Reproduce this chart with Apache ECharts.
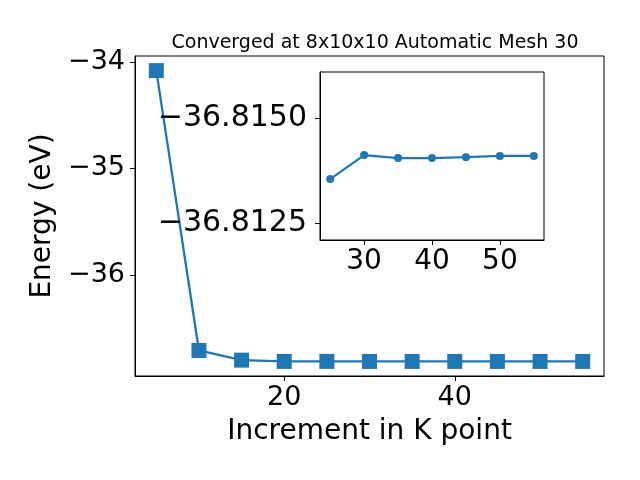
<!DOCTYPE html>
<html>
<head>
<meta charset="utf-8">
<script src="https://cdn.jsdelivr.net/npm/echarts@6/dist/echarts.min.js"></script>
<style>html,body{margin:0;padding:0;background:#fff}#c{width:640px;height:480px}</style>
</head>
<body>
<div id="c"></div>
<script>
const titleText = 'Converged at 8x10x10 Automatic Mesh 30';
const xLabel = 'Increment in K point';
const yLabel = 'Energy (eV)';
const mainK = [5, 10, 15, 20, 25, 30, 35, 40, 45, 50, 55];
const mainEnergy = [-34.08, -36.711, -36.802, -36.8139, -36.81355, -36.81412, -36.81405, -36.81405, -36.81407, -36.8141, -36.8141];
const insetK = [25, 30, 35, 40, 45, 50, 55];
const insetEnergy = [-36.81355, -36.81412, -36.81405, -36.81405, -36.81407, -36.8141, -36.8141];
const mainXTicks = [20, 40];
const mainYTicks = [-36, -35, -34];
const insetXTicks = [30, 40, 50];
const insetYTicks = [-36.815, -36.8125];

const FONT = 'DejaVu Sans';
const C = '#1f77b4';
const minus = (s) => s.replace('-', '\u2212');

const chart = echarts.init(document.getElementById('c'), null, {renderer: 'canvas'});
const axisCommon = {
  axisLine: {show: true, lineStyle: {color: '#000', width: 1}},
  axisTick: {show: true, length: 5, inside: false, lineStyle: {color: '#000', width: 1}},
  splitLine: {show: false}
};
chart.setOption({
  animation: false,
  backgroundColor: '#fff',
  title: {
    text: titleText, left: 370, top: 29, textAlign: 'center',
    textStyle: {fontFamily: FONT, fontSize: 19, fontWeight: 'normal', color: '#000'}
  },
  grid: [
    {left: 135, right: 36, top: 56, bottom: 104, show: true, borderColor: '#000', borderWidth: 1, backgroundColor: 'transparent'},
    {left: 320, top: 72, width: 224, height: 168, show: true, borderColor: '#000', borderWidth: 1, backgroundColor: '#fff', z: 5}
  ],
  xAxis: [
    Object.assign({}, axisCommon, {
      type: 'value', gridIndex: 0, min: 2.5, max: 57.5,
      name: xLabel, nameLocation: 'middle', nameGap: 42,
      nameTextStyle: {fontFamily: FONT, fontSize: 28, color: '#000'},
      axisTick: Object.assign({}, axisCommon.axisTick, {customValues: mainXTicks}),
      axisLabel: {customValues: mainXTicks, fontFamily: FONT, fontSize: 27, color: '#000', margin: 8}
    }),
    Object.assign({}, axisCommon, {
      type: 'value', gridIndex: 1, min: 23.5, max: 56.5, z: 10,
      axisTick: Object.assign({}, axisCommon.axisTick, {customValues: insetXTicks}),
      axisLabel: {customValues: insetXTicks, fontFamily: FONT, fontSize: 28, color: '#000', margin: 8}
    })
  ],
  yAxis: [
    Object.assign({}, axisCommon, {
      type: 'value', gridIndex: 0, min: -36.951, max: -33.943,
      name: yLabel, nameLocation: 'middle', nameGap: 76, nameRotate: 90,
      nameTextStyle: {fontFamily: FONT, fontSize: 28, color: '#000'},
      axisTick: Object.assign({}, axisCommon.axisTick, {customValues: mainYTicks}),
      axisLabel: {customValues: mainYTicks, fontFamily: FONT, fontSize: 27, color: '#000', margin: 10,
        formatter: (v) => minus(String(Math.round(v)))}
    }),
    Object.assign({}, axisCommon, {
      type: 'value', gridIndex: 1, inverse: true, min: -36.816095, max: -36.812102, z: 10,
      axisTick: Object.assign({}, axisCommon.axisTick, {customValues: insetYTicks}),
      axisLabel: {customValues: insetYTicks, fontFamily: FONT, fontSize: 30, color: '#000', margin: 13,
        padding: [4, 0, 0, 0],
        formatter: (v) => minus(v.toFixed(4))}
    })
  ],
  series: [
    {
      type: 'line', xAxisIndex: 0, yAxisIndex: 0, z: 2,
      data: mainK.map((k, i) => [k, mainEnergy[i]]),
      symbol: 'rect', symbolSize: 15,
      lineStyle: {color: C, width: 2.3},
      itemStyle: {color: C, borderWidth: 0}
    },
    {
      type: 'line', xAxisIndex: 1, yAxisIndex: 1, z: 12,
      data: insetK.map((k, i) => [k, insetEnergy[i]]),
      symbol: 'circle', symbolSize: 8,
      lineStyle: {color: C, width: 2.3},
      itemStyle: {color: C, borderWidth: 0}
    }
  ]
});
</script>
</body>
</html>
